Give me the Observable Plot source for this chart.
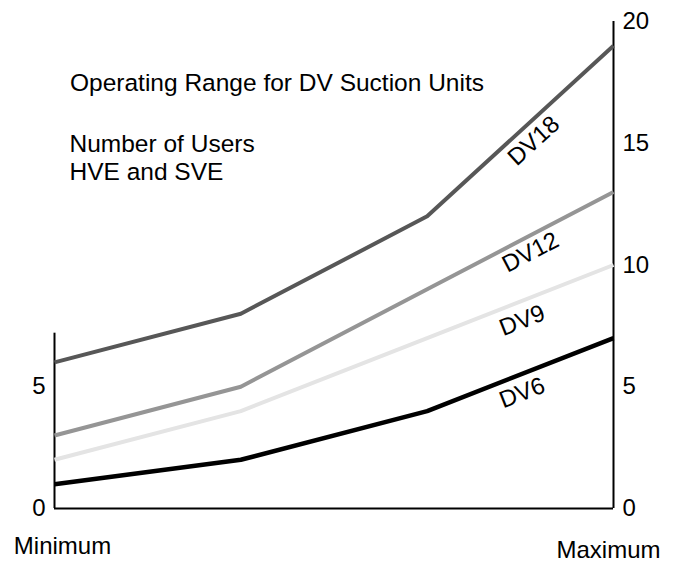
<!DOCTYPE html>
<html><head><meta charset="utf-8">
<script src="https://cdn.jsdelivr.net/npm/d3@7"></script>
<script src="https://cdn.jsdelivr.net/npm/@observablehq/plot@0.6"></script>
<style>
html,body{margin:0;padding:0;background:#fff;}
#chart svg{display:block;}
</style></head><body><div id="chart"></div>
<script>
// ---- data ----
const stages = [0, 1, 2, 3];
const seriesNames = ["DV18", "DV12", "DV9", "DV6"];
const dv18 = [6, 8, 12, 19];
const dv12 = [3, 5, 9, 13];
const dv9 = [2, 4, 7, 10];
const dv6 = [1, 2, 4, 7];
const rightTicks = [0, 5, 10, 15, 20];
const leftTicks = [0, 5];
const endLabels = ["Minimum", "Maximum"];
const titleText = "Operating Range for DV Suction Units";
const subtitleLines = ["Number of Users", "HVE and SVE"];
const leftAxisTop = 7.2;

// ---- styles ----
const seriesValues = {DV18: dv18, DV12: dv12, DV9: dv9, DV6: dv6};
const seriesColors = {DV18: "#575757", DV12: "#959595", DV9: "#e4e4e4", DV6: "#000000"};
const seriesWidths = {DV18: 4, DV12: 4, DV9: 4, DV6: 4.5};
// label placement along last segment: fraction t and perpendicular offset d (px)
const labelPlace = {DV18: [0.513, 16.3], DV12: [0.517, 15], DV9: [0.474, 18.4], DV6: [0.475, 17.7]};
const FONT = "'Liberation Sans', Arial, Helvetica, sans-serif";
const FS = 24;
const TFS = 24.5;

const rows = seriesNames.flatMap(s => stages.map((st, i) => ({series: s, stage: st, value: seriesValues[s][i]})));

const base = {
  width: 680, height: 561,
  marginLeft: 54, marginRight: 67, marginTop: 21, marginBottom: 53,
  x: {domain: [stages[0], stages[stages.length - 1]], axis: null},
  y: {domain: [0, rightTicks[rightTicks.length - 1]], axis: null, label: null},
  style: {fontFamily: FONT, fontSize: FS + "px", color: "black", background: "white"}
};

const probe = Plot.plot({...base, marks: []});
const sx = probe.scale("x"), sy = probe.scale("y");

const labels = seriesNames.map(s => {
  const v = seriesValues[s];
  const n = v.length;
  const x1 = sx.apply(stages[n - 2]), y1 = sy.apply(v[n - 2]);
  const x2 = sx.apply(stages[n - 1]), y2 = sy.apply(v[n - 1]);
  const [t, d] = labelPlace[s];
  const th = Math.atan2(y2 - y1, x2 - x1);
  const cx = x1 + t * (x2 - x1) - Math.sin(th) * d;
  const cy = y1 + t * (y2 - y1) + Math.cos(th) * d;
  return {text: s, x: sx.invert(cx), y: sy.invert(cy), rotate: th * 180 / Math.PI};
});

const marks = [
  Plot.ruleY([0], {x1: stages[0], x2: stages[stages.length - 1], stroke: "black", strokeWidth: 2}),
  Plot.ruleX([stages[0]], {y1: 0, y2: leftAxisTop, stroke: "black", strokeWidth: 2}),
  Plot.ruleX([stages[stages.length - 1]], {y1: 0, y2: rightTicks[rightTicks.length - 1], stroke: "black", strokeWidth: 2}),
  Plot.axisY(leftTicks, {anchor: "left", tickSize: 0, tickPadding: 9, fontSize: FS, label: null, fill: "black"}),
  Plot.axisY(rightTicks, {anchor: "right", tickSize: 0, tickPadding: 9, fontSize: FS, label: null, fill: "black"}),
  ...seriesNames.map(s => Plot.line(rows.filter(r => r.series === s), {
    x: "stage", y: "value", stroke: seriesColors[s], strokeWidth: seriesWidths[s],
    strokeLinecap: "butt", strokeLinejoin: "round"
  })),
  Plot.text(labels, {x: "x", y: "y", text: "text", rotate: "rotate", fontSize: FS, fill: "black",
    textAnchor: "middle", lineAnchor: "middle"}),
  Plot.text([endLabels[0]], {x: stages[0], frameAnchor: "bottom", text: d => d, fontSize: FS, fill: "black",
    textAnchor: "middle", lineAnchor: "bottom", dx: 8, dy: 45}),
  Plot.text([endLabels[1]], {x: stages[stages.length - 1], frameAnchor: "bottom", text: d => d, fontSize: FS, fill: "black",
    textAnchor: "middle", lineAnchor: "bottom", dx: -5, dy: 49.5}),
  Plot.text([titleText], {frameAnchor: "top-left", text: d => d, fontSize: TFS, fill: "black",
    textAnchor: "start", lineAnchor: "bottom", dx: 15.5, dy: 69.7}),
  Plot.text([subtitleLines[0]], {frameAnchor: "top-left", text: d => d, fontSize: TFS, fill: "black",
    textAnchor: "start", lineAnchor: "bottom", dx: 15, dy: 130.7}),
  Plot.text([subtitleLines[1]], {frameAnchor: "top-left", text: d => d, fontSize: TFS, fill: "black",
    textAnchor: "start", lineAnchor: "bottom", dx: 15, dy: 158})
];

document.getElementById("chart").appendChild(Plot.plot({...base, marks}));
</script></body></html>
